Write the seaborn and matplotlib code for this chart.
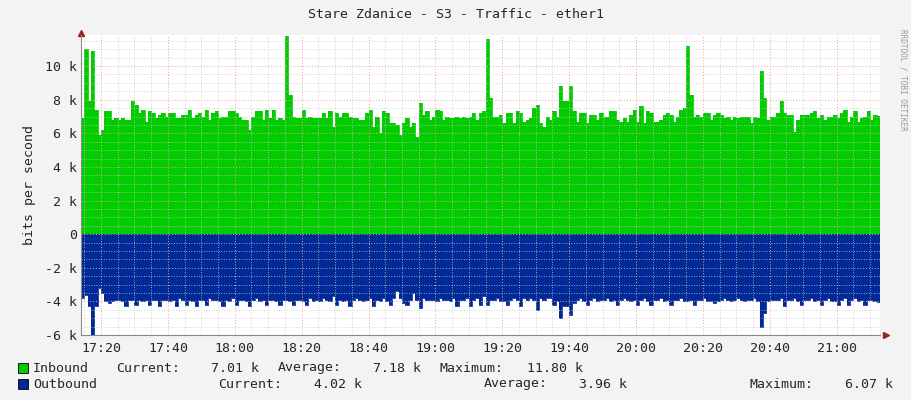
import matplotlib
matplotlib.use('Agg')
import matplotlib.pyplot as plt
import matplotlib.dates as mdates
from matplotlib.ticker import MultipleLocator, FuncFormatter
import seaborn as sns
import pandas as pd

title = 'Stare Zdanice - S3 - Traffic - ether1'
start = '2024-01-01 17:14'

# bits per second, in thousands, one sample per minute
inbound = [
    6.9, 11.0, 7.9, 10.9, 7.4, 5.9, 6.2, 7.3, 7.3, 6.8,
    6.9, 6.8, 6.9, 6.8, 6.8, 7.9, 7.7, 7.2, 7.4, 6.7,
    7.3, 7.2, 6.9, 7.1, 7.2, 7.0, 7.2, 7.2, 6.9, 6.9,
    7.1, 7.1, 7.4, 6.9, 7.1, 7.2, 7.0, 7.4, 6.8, 7.2,
    7.3, 6.9, 7.0, 7.0, 7.3, 7.3, 7.2, 7.0, 6.8, 6.8,
    6.2, 7.0, 7.3, 7.3, 6.8, 7.4, 6.9, 7.4, 6.8, 6.9,
    6.8, 11.8, 8.3, 7.0, 6.9, 6.9, 7.4, 6.9, 7.0, 6.9,
    6.9, 6.9, 7.2, 6.9, 7.3, 6.4, 7.2, 7.0, 7.2, 7.2,
    7.0, 6.9, 6.9, 6.8, 6.8, 7.2, 7.4, 6.4, 7.0, 6.0,
    7.3, 7.2, 6.6, 6.6, 6.5, 5.9, 6.6, 6.9, 6.4, 6.6,
    5.8, 7.8, 7.1, 7.3, 6.8, 7.0, 7.4, 7.3, 6.8, 7.0,
    6.9, 6.9, 7.0, 6.9, 7.0, 6.9, 7.0, 7.2, 6.8, 7.2,
    7.3, 11.6, 8.1, 7.0, 7.0, 7.1, 6.6, 7.2, 7.2, 6.6,
    7.3, 7.2, 6.7, 6.8, 6.9, 7.5, 7.7, 6.6, 6.4, 7.0,
    6.8, 7.3, 7.0, 8.8, 7.9, 7.9, 8.8, 7.3, 6.7, 7.2,
    7.2, 6.6, 7.1, 7.1, 6.8, 7.2, 7.0, 7.0, 7.3, 7.3,
    6.8, 6.7, 6.9, 6.7, 7.1, 7.4, 6.7, 7.6, 6.6, 7.3,
    7.2, 6.7, 6.7, 6.8, 7.1, 7.2, 7.1, 6.7, 7.0, 7.4,
    7.5, 11.2, 8.3, 7.0, 7.1, 7.0, 7.2, 7.2, 6.8, 7.1,
    7.2, 7.1, 6.9, 7.0, 6.8, 7.0, 6.9, 7.0, 7.0, 7.0,
    6.6, 7.0, 6.9, 9.7, 8.1, 6.8, 7.0, 7.0, 7.2, 7.9,
    7.2, 7.1, 7.1, 6.1, 6.8, 7.1, 7.1, 7.1, 7.2, 7.3,
    6.9, 7.1, 6.8, 7.0, 7.0, 7.1, 6.9, 7.2, 7.4, 6.7,
    7.0, 7.3, 6.7, 6.9, 7.0, 7.3, 6.8, 7.1, 7.01,
]
outbound = [
    3.8, 3.6, 4.3, 6.07, 4.3, 3.2, 3.5, 4.0, 4.1, 4.0,
    3.9, 3.9, 4.0, 4.3, 3.9, 3.9, 4.2, 3.9, 4.0, 3.9,
    4.2, 3.9, 3.9, 4.3, 3.9, 3.9, 4.0, 3.9, 4.3, 3.8,
    3.9, 4.2, 3.9, 4.0, 4.3, 3.9, 3.9, 4.2, 3.8, 3.9,
    3.9, 4.0, 4.3, 3.9, 4.0, 3.8, 4.2, 3.9, 3.9, 4.0,
    4.3, 3.9, 3.8, 4.0, 3.9, 4.2, 3.9, 3.9, 4.0, 4.2,
    3.9, 3.9, 4.0, 4.2, 3.9, 3.9, 4.0, 4.2, 3.8, 4.0,
    3.9, 4.0, 3.8, 3.9, 4.0, 3.7, 4.2, 3.9, 4.0, 3.9,
    4.3, 3.9, 3.8, 3.9, 4.0, 3.9, 3.8, 4.3, 3.9, 4.0,
    3.8, 4.0, 4.2, 3.8, 3.4, 3.8, 4.1, 4.2, 3.9, 3.5,
    3.9, 4.4, 3.8, 3.9, 3.9, 3.9, 4.0, 3.8, 3.9, 3.9,
    4.0, 3.8, 4.3, 3.9, 3.9, 3.8, 4.3, 3.9, 3.8, 4.2,
    3.7, 4.2, 3.9, 3.9, 3.8, 4.0, 4.0, 4.2, 3.9, 3.8,
    3.9, 4.3, 3.8, 3.9, 3.8, 3.9, 4.5, 3.8, 3.9, 3.8,
    3.8, 4.2, 4.0, 5.0, 4.3, 4.3, 4.8, 4.1, 3.9, 3.8,
    4.0, 4.2, 3.9, 3.8, 4.0, 3.9, 3.9, 3.8, 4.0, 3.9,
    4.2, 3.9, 3.8, 3.9, 4.0, 3.9, 4.2, 3.9, 3.8, 4.0,
    4.2, 3.9, 3.9, 3.8, 4.0, 3.9, 4.2, 3.9, 3.9, 3.8,
    4.0, 4.0, 3.9, 4.2, 3.9, 3.9, 3.8, 4.0, 4.0, 4.1,
    4.0, 3.9, 3.8, 3.9, 4.0, 3.9, 3.8, 3.9, 4.0, 3.9,
    3.9, 3.8, 4.0, 5.5, 4.7, 4.0, 3.9, 3.9, 3.9, 3.8,
    4.3, 3.9, 3.9, 3.8, 4.0, 4.2, 3.9, 3.9, 3.8, 4.0,
    3.9, 4.2, 3.9, 3.8, 4.0, 4.0, 4.2, 3.9, 3.8, 4.2,
    3.9, 3.8, 4.0, 3.9, 4.2, 3.9, 3.9, 4.0, 4.02,
]
legend_rows = [
    ('Inbound', [('Current:', 116, '7.01 k', 259), ('Average:', 278, '7.18 k', 421), ('Maximum:', 440, '11.80 k', 583)]),
    ('Outbound', [('Current:', 218, '4.02 k', 362), ('Average:', 484, '3.96 k', 627), ('Maximum:', 750, '6.07 k', 893)]),
]

GREEN = '#00CC00'
BLUE = '#002A97'
BG = '#F3F3F3'
MONO = ['DejaVu Sans Mono']

df = pd.DataFrame({
    'time': pd.date_range(start, periods=len(inbound), freq='min'),
    'inbound': [v * 1000 for v in inbound],
    'outbound': [-v * 1000 for v in outbound],
})

sns.set_style('white')
plt.rcParams['font.family'] = MONO

fig = plt.figure(figsize=(9.11, 4.0), dpi=100, facecolor=BG)
W, H = 911, 400
ax = fig.add_axes([81 / W, 1 - 335 / H, (880 - 81) / W, (335 - 35) / H])
ax.set_facecolor('white')

t_end = df['time'].iloc[-1] + pd.Timedelta(minutes=1)
tt = list(df['time']) + [t_end]
ax.fill_between(tt, list(df['inbound']) + [df['inbound'].iloc[-1]], 0, step='post', color=GREEN, lw=0, zorder=2)
ax.fill_between(tt, list(df['outbound']) + [df['outbound'].iloc[-1]], 0, step='post', color=BLUE, lw=0, zorder=2)
sns.lineplot(x=tt, y=list(df['inbound']) + [df['inbound'].iloc[-1]], drawstyle='steps-post', color=GREEN, lw=0.6, ax=ax, zorder=2)
sns.lineplot(x=tt, y=list(df['outbound']) + [df['outbound'].iloc[-1]], drawstyle='steps-post', color=BLUE, lw=0.6, ax=ax, zorder=2)

ax.set_xlim(df['time'].iloc[0], t_end)
ax.set_ylim(-6000, 11850)

ax.yaxis.set_major_locator(MultipleLocator(2000))
ax.yaxis.set_minor_locator(MultipleLocator(500))
ax.yaxis.set_major_formatter(FuncFormatter(lambda v, p: '0' if v == 0 else '%d k' % (v / 1000)))
ax.xaxis.set_major_locator(mdates.MinuteLocator(byminute=[0, 20, 40]))
ax.xaxis.set_minor_locator(mdates.MinuteLocator(byminute=range(0, 60, 5)))
ax.xaxis.set_major_formatter(mdates.DateFormatter('%H:%M'))

ax.grid(which='major', color='#F0A0A0', ls=(0, (1, 2)), lw=0.7, zorder=3)
ax.grid(which='minor', color='#C8C8C8', ls=(0, (1, 2)), lw=0.6, zorder=3)
ax.set_axisbelow(False)
ax.tick_params(which='both', direction='in', length=2, color='#888888', labelsize=9.5, pad=3)
ax.tick_params(axis='x', pad=5)
for s in ['top', 'right']:
    ax.spines[s].set_visible(False)
for s in ['left', 'bottom']:
    ax.spines[s].set_color('#888888')
    ax.spines[s].set_linewidth(0.8)
ax.plot(1.008, 0, marker='>', color='#A02020', ms=4, transform=ax.transAxes, clip_on=False)
ax.plot(0, 1.008, marker='^', color='#A02020', ms=4, transform=ax.transAxes, clip_on=False)

ax.set_ylabel('bits per second', fontsize=9.5, labelpad=6)
ax.set_xlabel('')
fig.text(0.5, 1 - 14 / H, title, ha='center', va='center', fontsize=9.5)
fig.text(903 / W, 0.8, 'RRDTOOL / TOBI OETIKER', rotation=270, ha='center', va='center',
         fontsize=5.5, color='#999999')

for i, (name, items) in enumerate(legend_rows):
    y = 1 - (368 + 16 * i) / H
    color = GREEN if i == 0 else BLUE
    fig.patches.append(plt.Rectangle((18 / W, y - 5 / H), 10 / W, 10 / H, transform=fig.transFigure,
                                     facecolor=color, edgecolor='black', lw=0.6))
    fig.text(33 / W, y, name, va='center', fontsize=9.5)
    for lab, lx, val, vx in items:
        fig.text(lx / W, y, lab, va='center', fontsize=9.5)
        fig.text(vx / W, y, val, va='center', ha='right', fontsize=9.5)

fig.savefig('out.png', dpi=100, facecolor=BG)
